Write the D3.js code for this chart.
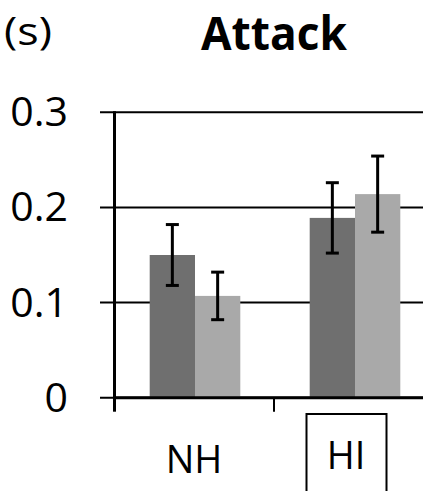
<!DOCTYPE html>
<html>
<head>
<meta charset="utf-8">
<script src="https://cdn.jsdelivr.net/npm/d3@7"></script>
<style>
html,body{margin:0;padding:0;background:#fff;overflow:hidden;}
svg{display:block;}
</style>
</head>
<body>
<svg id="chart" width="423" height="491"></svg>
<script>
const categories = ["NH", "HI"];
const seriesNames = ["Condition 1", "Condition 2"];
const series1Values = [0.150, 0.189];
const series2Values = [0.107, 0.214];
const series1Errors = [0.032, 0.037];
const series2Errors = [0.025, 0.040];
const yTicks = [0, 0.1, 0.2, 0.3];
const yTickLabels = ["0", "0.1", "0.2", "0.3"];
const title = "Attack";
const unitLabel = "(s)";

const colors = ["#6f6f6f", "#a9a9a9"];
const svg = d3.select("#chart");
const font = "'Open Sans', 'Noto Sans', sans-serif";

const y = d3.scaleLinear().domain([0, 0.3]).range([397.7, 112.3]);
const x = d3.scaleBand().domain(categories).range([114, 434]).padding(0);
const groupW = 90.6;
const xs = d3.scaleBand().domain(seriesNames).range([0, groupW]).padding(0);

const data = categories.map((c, i) => ({
  cat: c,
  vals: [
    {s: seriesNames[0], v: series1Values[i], e: series1Errors[i], c: colors[0]},
    {s: seriesNames[1], v: series2Values[i], e: series2Errors[i], c: colors[1]}
  ]
}));

// gridlines
svg.append("g").selectAll("line").data(yTicks).join("line")
  .attr("x1", 100).attr("x2", 423)
  .attr("y1", d => y(d)).attr("y2", d => y(d))
  .attr("stroke", "#000").attr("stroke-width", 2);

// bars
const groups = svg.append("g").selectAll("g").data(data).join("g")
  .attr("transform", d => `translate(${x(d.cat) + x.bandwidth()/2 - groupW/2 + 1},0)`);
groups.selectAll("rect").data(d => d.vals).join("rect")
  .attr("x", d => xs(d.s)).attr("width", xs.bandwidth())
  .attr("y", d => y(d.v)).attr("height", d => y(0) - y(d.v))
  .attr("fill", d => d.c);

// error bars
const eb = groups.selectAll("g.err").data(d => d.vals).join("g").attr("class", "err");
eb.append("line")
  .attr("x1", d => xs(d.s) + xs.bandwidth()/2).attr("x2", d => xs(d.s) + xs.bandwidth()/2)
  .attr("y1", d => y(d.v + d.e)).attr("y2", d => y(d.v - d.e))
  .attr("stroke", "#000").attr("stroke-width", 3);
eb.selectAll("line.cap").data(d => [{d, k: d.v + d.e}, {d, k: d.v - d.e}]).join("line")
  .attr("class", "cap")
  .attr("x1", o => xs(o.d.s) + xs.bandwidth()/2 - 6.5).attr("x2", o => xs(o.d.s) + xs.bandwidth()/2 + 6.5)
  .attr("y1", o => y(o.k)).attr("y2", o => y(o.k))
  .attr("stroke", "#000").attr("stroke-width", 3);

// y axis
svg.append("line").attr("x1", 114.5).attr("x2", 114.5)
  .attr("y1", y(0.3) - 1).attr("y2", y(0) + 1)
  .attr("stroke", "#000").attr("stroke-width", 3);
// x axis
svg.append("line").attr("x1", 113).attr("x2", 423)
  .attr("y1", y(0)).attr("y2", y(0))
  .attr("stroke", "#000").attr("stroke-width", 3);
// x ticks
const xTickPos = [x(categories[0]), x(categories[1])];
svg.append("g").selectAll("line").data(xTickPos).join("line")
  .attr("x1", d => d === xTickPos[0] ? d + 0.5 : d).attr("x2", d => d === xTickPos[0] ? d + 0.5 : d)
  .attr("y1", y(0)).attr("y2", y(0) + 14)
  .attr("stroke", "#000").attr("stroke-width", d => d === xTickPos[0] ? 3 : 2);

// y tick labels
svg.append("g").selectAll("text").data(yTicks).join("text")
  .attr("x", 68).attr("y", d => y(d) + 14)
  .attr("text-anchor", "end")
  .attr("font-family", font).attr("font-size", 41)
  .attr("fill", "#000")
  .text((d, i) => yTickLabels[i]);

// category labels
svg.append("g").selectAll("text").data(categories).join("text")
  .attr("x", d => x(d) + x.bandwidth()/2 + (d === "NH" ? 0 : -8))
  .attr("y", d => d === "NH" ? 473 : 469)
  .attr("text-anchor", "middle")
  .attr("font-family", font).attr("font-size", 38)
  .attr("fill", "#000")
  .text(d => d);

// HI box
svg.append("rect").attr("x", 306.5).attr("y", 414).attr("width", 80).attr("height", 80)
  .attr("fill", "none").attr("stroke", "#000").attr("stroke-width", 2);

// title
svg.append("text").attr("x", 274).attr("y", 50)
  .attr("text-anchor", "middle")
  .attr("font-family", font).attr("font-weight", "bold").attr("font-size", 46)
  .attr("textLength", 146).attr("lengthAdjust", "spacingAndGlyphs")
  .text(title);

// unit
svg.append("text").attr("x", 4).attr("y", 45)
  .attr("font-family", font).attr("font-size", 38)
  .attr("textLength", 48).attr("lengthAdjust", "spacingAndGlyphs")
  .text(unitLabel);
</script>
</body>
</html>
